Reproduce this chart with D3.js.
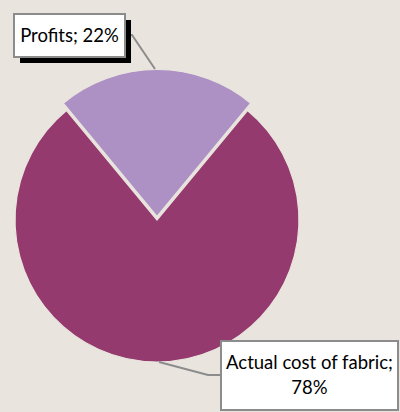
<!DOCTYPE html>
<html>
<head>
<meta charset="utf-8">
<script src="https://cdn.jsdelivr.net/npm/d3@7"></script>
<style>
  html, body { margin: 0; padding: 0; background: #e9e5de; }
  svg { display: block; }
  text { font-family: Lato, "Noto Sans", sans-serif; fill: #000; }
</style>
</head>
<body>
<svg id="chart" width="400" height="412"></svg>
<script>
// chart values
var categories = ['Profits', 'Actual cost of fabric'];
var values = [22, 78];
var colors = ['#ad91c5', '#953a6e'];

var W = 400, H = 412;
var svg = d3.select('#chart');
svg.append('rect').attr('width', W).attr('height', H).attr('fill', '#e9e5de');

var cx = 157, cy = 220, R = 142;

// start the profits slice centred at the top
var pie = d3.pie().sort(null).value(function(d) { return d.v; })
  .startAngle(-values[0] / 100 * Math.PI)
  .endAngle(2 * Math.PI - values[0] / 100 * Math.PI);
var data = categories.map(function(c, i) { return { name: c, v: values[i], color: colors[i] }; });
var arcs = pie(data);

var radii = [147, R];
var explode = [3.5, 0];

var g = svg.append('g').attr('transform', 'translate(' + cx + ',' + cy + ')');
g.selectAll('path.slice')
  .data(arcs)
  .enter()
  .append('path')
  .attr('class', 'slice')
  .attr('d', function(d, i) { return d3.arc().innerRadius(0).outerRadius(radii[i])(d); })
  .attr('fill', function(d) { return d.data.color; })
  .attr('stroke', '#e9e5de')
  .attr('stroke-width', 1.2)
  .attr('transform', function(d, i) {
    var a = (d.startAngle + d.endAngle) / 2;
    return 'translate(' + (Math.sin(a) * explode[i]) + ',' + (-Math.cos(a) * explode[i]) + ')';
  });

// leader lines
var lines = [
  [[126, 35], [132, 35], [155, 69]],
  [[159, 362], [208, 375], [220, 375]]
];
svg.selectAll('path.leader')
  .data(lines)
  .enter()
  .append('path')
  .attr('class', 'leader')
  .attr('d', d3.line())
  .attr('fill', 'none')
  .attr('stroke', '#8c8c8c')
  .attr('stroke-width', 2);

// label boxes
var boxes = [
  { x: 14, y: 14, w: 111, h: 43, lines: [categories[0] + '; ' + values[0] + '%'], shadow: true },
  { x: 221, y: 341, w: 177, h: 69, lines: [categories[1] + ';', values[1] + '%'], shadow: false }
];
var lb = svg.selectAll('g.label')
  .data(boxes)
  .enter()
  .append('g')
  .attr('class', 'label');
lb.filter(function(d) { return d.shadow; })
  .append('rect')
  .attr('x', function(d) { return d.x + 6; })
  .attr('y', function(d) { return d.y + 6; })
  .attr('width', function(d) { return d.w; })
  .attr('height', function(d) { return d.h; })
  .attr('fill', '#000');
lb.append('rect')
  .attr('x', function(d) { return d.x; })
  .attr('y', function(d) { return d.y; })
  .attr('width', function(d) { return d.w; })
  .attr('height', function(d) { return d.h; })
  .attr('fill', '#fff')
  .attr('stroke', '#8c8c8c')
  .attr('stroke-width', 2);
lb.each(function(d) {
  var t = d3.select(this).append('text')
    .attr('text-anchor', 'middle')
    .style('font-size', '18.5px');
  var n = d.lines.length;
  d.lines.forEach(function(s, i) {
    t.append('tspan')
      .attr('x', d.x + d.w / 2)
      .attr('y', d.y + d.h / 2 + (i - (n - 1) / 2) * 25 + 6)
      .text(s);
  });
});
</script>
</body>
</html>
